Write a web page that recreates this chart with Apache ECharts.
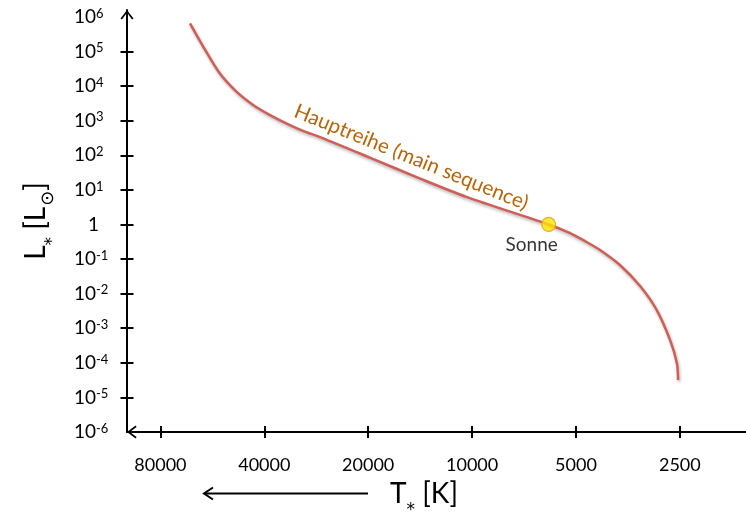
<!DOCTYPE html>
<html>
<head>
<meta charset="utf-8">
<script src="https://cdn.jsdelivr.net/npm/echarts@6/dist/echarts.min.js"></script>
<style>
  html, body { margin: 0; padding: 0; background: #fff; }
  #chart { width: 746px; height: 514px; }
</style>
</head>
<body>
<div id="chart"></div>
<script>
// Main sequence in the Hertzsprung-Russell diagram:
// effective temperature T (K) against luminosity L (solar units).
const seqTemperature = [65700, 60100, 53800, 48100, 43000, 38500, 34450, 30800, 27600,
  19800, 14200, 10400, 6000, 5200, 4710, 4260, 3730, 3260, 2920, 2670, 2550, 2530];
const seqLuminosity = [6.5e5, 1.37e5, 2.3e4, 6.8e3, 2.8e3, 1.45e3, 825, 500, 336,
  86, 21.5, 6.3, 1, 0.564, 0.331, 0.182, 0.0672, 0.0166, 0.0034, 4.6e-4, 9.7e-5, 3.2e-5];

// The Sun on the main sequence
const sunTemperature = 6000;
const sunLuminosity = 1;
const sunName = 'Sonne';

// Axis ticks
const tempTicks = [80000, 40000, 20000, 10000, 5000, 2500];
const lumExponents = [-6, -5, -4, -3, -2, -1, 0, 1, 2, 3, 4, 5, 6];
const lumTickMarks = [-5, -4, -3, -2, -1, 0, 1, 2, 3, 4, 5];

// Curve caption, anchored at a (T, L) location
const seqCaption = 'Hauptreihe (main sequence)';
const seqCaptionAt = [15000, 88];

// Temperature is drawn on -log10(T) so that hot stars sit on the left;
// luminosity on log10(L).
const tx = t => -Math.log10(t);
const ly = l => Math.log10(l);

const FONT = 'Lato, "DejaVu Sans", sans-serif';
const STAR_FONT = '"DejaVu Sans", sans-serif';
const arrowUp = 'path://M0,8.6 L6.5,0 L13,8.6 L11.6,9.6 L6.5,2.8 L1.4,9.6 Z';

const xMin = tx(100000);
const xMax = -3.2063;
const yMin = -6;
const yMax = 6.2;

const tempTickPos = tempTicks.map(tx);
const tempLabel = v => {
  const t = tempTicks.find(tt => Math.abs(tx(tt) - v) < 1e-6);
  return t === undefined ? '' : String(t);
};
const lumLabel = v => {
  const e = Math.round(v);
  return e === 0 ? '{one|1}' : '{b|10}{s|' + e + '}';
};

const chart = echarts.init(document.getElementById('chart'), null, { renderer: 'canvas' });

chart.setOption({
  animation: false,
  backgroundColor: '#ffffff',
  grid: { left: 127, right: 0, top: 10, bottom: 82, outerBoundsMode: 'none', containLabel: false },
  xAxis: [
    {
      type: 'value', min: xMin, max: xMax, position: 'bottom',
      axisLine: {
        show: true, onZero: false,
        symbol: [arrowUp, 'none'], symbolSize: [13, 9.6], symbolOffset: [4.8, 0],
        lineStyle: { color: '#000', width: 2 }
      },
      axisTick: { show: true, inside: false, length: 6, customValues: tempTickPos,
        lineStyle: { color: '#000', width: 2 } },
      axisLabel: { show: true, customValues: tempTickPos, formatter: tempLabel,
        margin: 24, fontFamily: FONT, fontSize: 18, color: '#000' },
      splitLine: { show: false },
      name: '{t|T}{s|*}{t| [K]}',
      nameLocation: 'middle', nameGap: 47,
      nameTextStyle: {
        padding: [0, 25, 0, 0],
        rich: {
          t: { fontFamily: FONT, fontSize: 28, color: '#000', lineHeight: 30 },
          s: { fontFamily: STAR_FONT, fontSize: 17, color: '#000', lineHeight: 14, verticalAlign: 'bottom', padding: [0, 0, -10, 0] }
        }
      }
    },
    {
      type: 'value', min: xMin, max: xMax, position: 'bottom',
      axisLine: { show: false, onZero: false },
      axisTick: { show: true, inside: true, length: 6, customValues: tempTickPos,
        lineStyle: { color: '#000', width: 2 } },
      axisLabel: { show: false },
      splitLine: { show: false }
    }
  ],
  yAxis: [
    {
      type: 'value', min: yMin, max: yMax, position: 'left',
      axisLine: {
        show: true, onZero: false,
        symbol: ['none', arrowUp], symbolSize: [13, 9.6], symbolOffset: [0, -4.8],
        lineStyle: { color: '#000', width: 2 }
      },
      axisTick: { show: true, inside: false, length: 6.5, customValues: lumTickMarks,
        lineStyle: { color: '#000', width: 2 } },
      axisLabel: {
        show: true, customValues: lumExponents, formatter: lumLabel,
        align: 'left', margin: 53,
        rich: {
          b: { fontFamily: FONT, fontSize: 19, color: '#000', lineHeight: 20 },
          s: { fontFamily: FONT, fontSize: 13, color: '#000', lineHeight: 13, verticalAlign: 'top' },
          one: { fontFamily: FONT, fontSize: 19, color: '#000', lineHeight: 20, padding: [0, 0, 0, 14] }
        }
      },
      splitLine: { show: false },
      name: '{l|L}{s|*}{l| [L}{o|⊙}{l|]}',
      nameLocation: 'middle', nameRotate: 90, nameGap: 76,
      nameTextStyle: {
        rich: {
          l: { fontFamily: FONT, fontSize: 28, color: '#000', lineHeight: 30 },
          s: { fontFamily: STAR_FONT, fontSize: 17, color: '#000', lineHeight: 14, verticalAlign: 'bottom', padding: [0, 0, -10, 0] },
          o: { fontFamily: STAR_FONT, fontSize: 18, color: '#000', lineHeight: 14, verticalAlign: 'bottom', padding: [0, 0, -6, 1] }
        }
      }
    },
    {
      type: 'value', min: yMin, max: yMax, position: 'left',
      axisLine: { show: false, onZero: false },
      axisTick: { show: true, inside: true, length: 6.5, customValues: lumTickMarks,
        lineStyle: { color: '#000', width: 2 } },
      axisLabel: { show: false },
      splitLine: { show: false }
    }
  ],
  series: [
    {
      name: 'main sequence',
      type: 'line',
      xAxisIndex: 0, yAxisIndex: 0,
      data: seqTemperature.map((t, i) => [tx(t), ly(seqLuminosity[i])]),
      smooth: 0.3,
      showSymbol: false,
      lineStyle: {
        color: '#CF5E57', width: 2.5,
        shadowColor: 'rgba(0,0,0,0.3)', shadowBlur: 3, shadowOffsetX: 1, shadowOffsetY: 2
      },
      z: 2,
      markPoint: {
        symbol: 'circle',
        symbolSize: 1,
        itemStyle: { color: 'rgba(0,0,0,0)' },
        data: [{
          coord: [tx(seqCaptionAt[0]), ly(seqCaptionAt[1])],
          label: {
            show: true, formatter: seqCaption, position: 'inside', rotate: -22,
            fontFamily: FONT, fontSize: 20.5, color: '#B5660A'
          }
        }]
      }
    },
    {
      name: sunName,
      type: 'scatter',
      xAxisIndex: 0, yAxisIndex: 0,
      data: [[tx(sunTemperature), ly(sunLuminosity)]],
      symbol: 'circle',
      symbolSize: 14,
      itemStyle: { color: '#FFE200', borderColor: '#D9A21B', borderWidth: 1.2 },
      label: {
        show: true, formatter: sunName, position: 'bottom', distance: 3, offset: [-17, 0],
        fontFamily: FONT, fontSize: 19, color: '#000'
      },
      z: 5
    }
  ],
  graphic: [
    {
      type: 'group',
      children: [
        { type: 'line', shape: { x1: 205, y1: 493.5, x2: 368, y2: 493.5 },
          style: { stroke: '#000', lineWidth: 2 } },
        { type: 'polyline', shape: { points: [[213, 487.5], [204, 493.5], [213, 499.5]] },
          style: { stroke: '#000', lineWidth: 2, fill: null } }
      ]
    }
  ]
});
</script>
</body>
</html>
